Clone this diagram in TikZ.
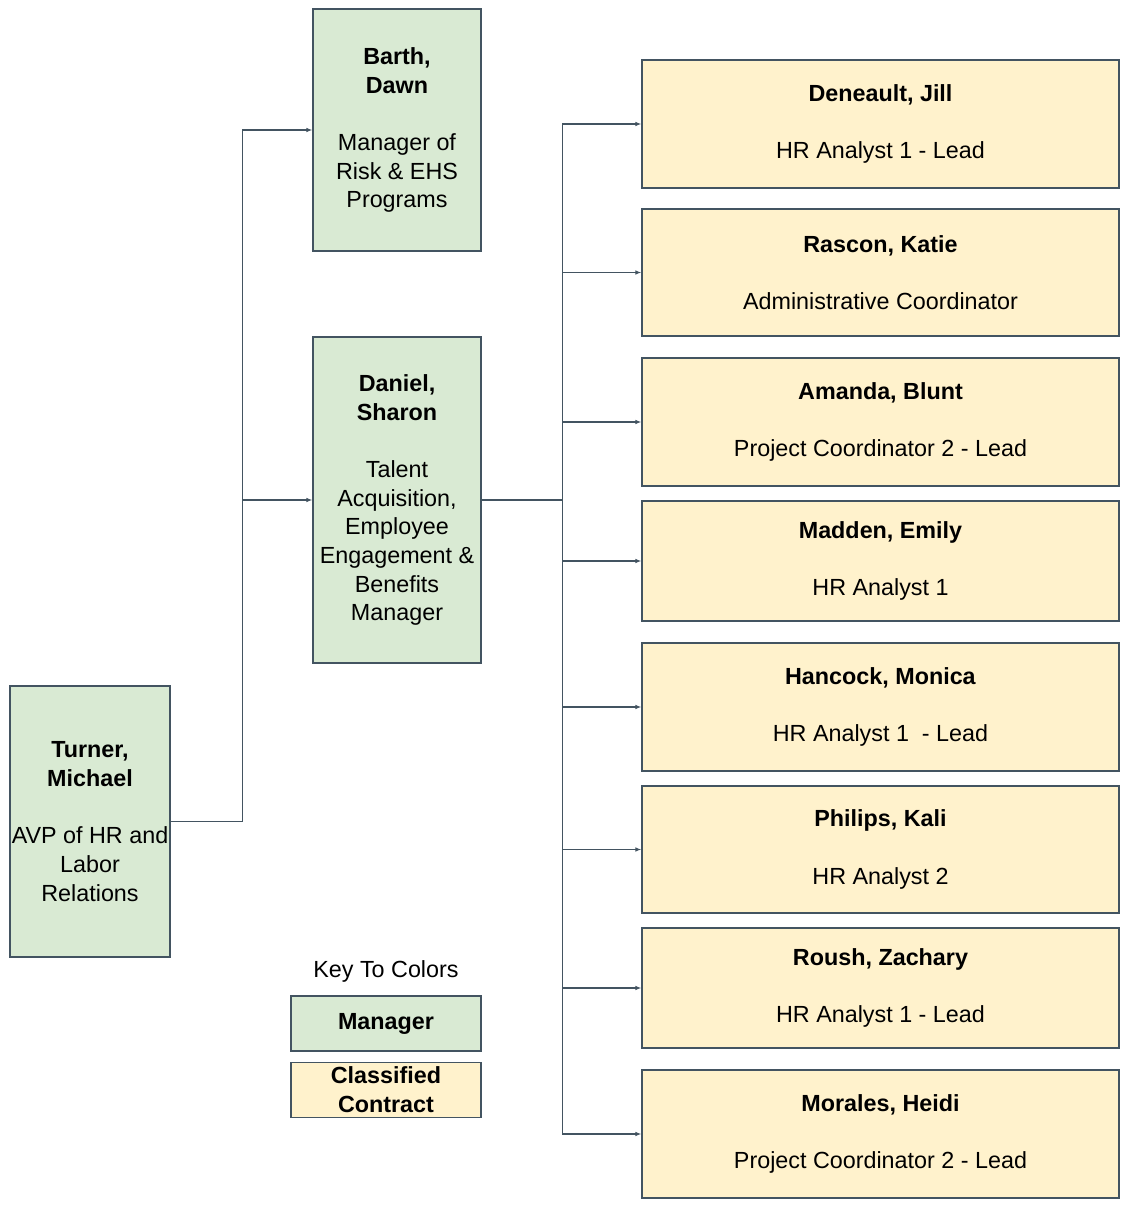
\documentclass[tikz,border=0pt]{standalone}
\usepackage{fontspec}
\setmainfont{Liberation Sans}
\usetikzlibrary{arrows.meta,positioning}

\definecolor{mgrgreen}{HTML}{D9EAD3}
\definecolor{clsyellow}{HTML}{FFF2CC}
\definecolor{edgegray}{HTML}{435461}

\tikzset{
  box/.style={draw=edgegray, line width=1pt, align=center, inner sep=0pt,
    font=\fontsize{17.5}{21.5}\selectfont},
  mgr/.style={box, fill=mgrgreen},
  staff/.style={box, fill=clsyellow, minimum width=357.75pt, minimum height=96pt},
  conn/.style={draw=edgegray, line width=0.8pt, -{Latex[length=4.5pt,width=3.5pt]}},
}

\begin{document}
\begin{tikzpicture}[x=0.75pt, y=-0.75pt]
  \useasboundingbox (0,0) rectangle (1127,1205);

  % Managers
  \node[mgr, minimum width=120pt, minimum height=203.25pt] (turner) at (90,821.5)
    {\textbf{Turner,}\\\textbf{Michael}\\[21.5pt]AVP of HR and\\Labor\\Relations};
  \node[mgr, minimum width=126pt, minimum height=181.5pt] (barth) at (397,130)
    {\textbf{Barth,}\\\textbf{Dawn}\\[21.5pt]Manager of\\Risk \& EHS\\Programs};
  \node[mgr, minimum width=126pt, minimum height=244.5pt] (daniel) at (397,500)
    {\textbf{Daniel,}\\\textbf{Sharon}\\[21.5pt]Talent\\Acquisition,\\Employee\\Engagement \&\\Benefits\\Manager};

  % Classified staff
  \node[staff] (deneault) at (880.5,124) {\textbf{Deneault, Jill}\\[21.5pt]HR Analyst 1 - Lead};
  \node[staff, minimum height=95.25pt] (rascon) at (880.5,272.5) {\textbf{Rascon, Katie}\\[21.5pt]Administrative Coordinator};
  \node[staff] (amanda) at (880.5,422) {\textbf{Amanda, Blunt}\\[21.5pt]Project Coordinator 2 - Lead};
  \node[staff, minimum height=90pt] (madden) at (880.5,561) {\textbf{Madden, Emily}\\[21.5pt]HR Analyst 1};
  \node[staff] (hancock) at (880.5,707) {\textbf{Hancock, Monica}\\[21.5pt]HR Analyst 1\ \ - Lead};
  \node[staff, minimum height=95.25pt] (philips) at (880.5,849.5) {\textbf{Philips, Kali}\\[21.5pt]HR Analyst 2};
  \node[staff, minimum height=90pt] (roush) at (880.5,988) {\textbf{Roush, Zachary}\\[21.5pt]HR Analyst 1 - Lead};
  \node[staff] (morales) at (880.5,1134) {\textbf{Morales, Heidi}\\[21.5pt]Project Coordinator 2 - Lead};

  % Key
  \node[font=\fontsize{17.5}{21.5}\selectfont] (keytitle) at (386,971) {Key To Colors};
  \node[mgr, minimum width=142.5pt, minimum height=41.25pt] (keymgr) at (386,1023.5) {\textbf{Manager}};
  \node[box, fill=clsyellow, minimum width=142.5pt, minimum height=41.25pt, below=7.5pt of keymgr] (keycls)
    {\textbf{Classified}\\\textbf{Contract}};

  % Connectors
  \draw[conn] (turner.east) -- ++(72,0) |- (barth.west);
  \draw[conn] (turner.east) -- ++(72,0) |- (daniel.west);
  \draw[draw=edgegray, line width=0.8pt] (daniel.east) -- ++(81,0) coordinate (trunk);
  \foreach \n in {deneault,rascon,amanda,madden,hancock,philips,roush,morales}
    \draw[conn] (trunk) |- (\n.west);

\end{tikzpicture}
\end{document}
